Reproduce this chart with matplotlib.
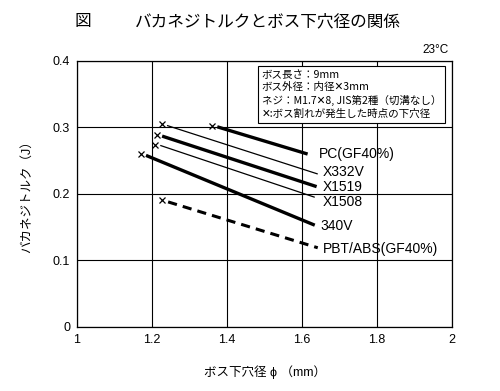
import matplotlib
matplotlib.use("Agg")
import matplotlib.pyplot as plt

plt.rcParams['font.family'] = ['Liberation Sans', 'Noto Sans CJK JP', 'DejaVu Sans']

series = ["PC(GF40%)", "X332V", "X1519", "X1508", "340V", "PBT/ABS(GF40%)"]
mark_x = [1.361, 1.227, 1.214, 1.209, 1.171, 1.227]
mark_y = [0.302, 0.305, 0.289, 0.274, 0.260, 0.191]
start_x = [1.374, 1.240, 1.227, 1.222, 1.184, 1.243]
start_y = [0.301, 0.303, 0.287, 0.273, 0.258, 0.188]
end_x = [1.615, 1.642, 1.639, 1.634, 1.634, 1.642]
end_y = [0.260, 0.230, 0.211, 0.195, 0.153, 0.119]
label_x = [1.645, 1.655, 1.655, 1.655, 1.650, 1.655]
label_y = [0.260, 0.233, 0.211, 0.188, 0.152, 0.117]
widths = [2.4, 0.9, 2.4, 0.9, 2.4, 2.2]
styles = ['-', '-', '-', '-', '-', '--']

xticks = [1, 1.2, 1.4, 1.6, 1.8, 2]
xticklabels = ["1", "1.2", "1.4", "1.6", "1.8", "2"]
yticks = [0, 0.1, 0.2, 0.3, 0.4]
yticklabels = ["0", "0.1", "0.2", "0.3", "0.4"]

fig = plt.figure(figsize=(5.0, 3.91), dpi=100)
ax = fig.add_axes([0.154, 0.164, 0.75, 0.68])
ax.set_xlim(1, 2)
ax.set_ylim(0, 0.4)
ax.set_xticks(xticks)
ax.set_xticklabels(xticklabels, fontsize=9)
ax.set_yticks(yticks)
ax.set_yticklabels(yticklabels, fontsize=9)
ax.tick_params(length=0, pad=5)
ax.grid(True, color='black', linewidth=0.8)
ax.set_axisbelow(True)
for s in ax.spines.values():
    s.set_linewidth(0.9)

for i, name in enumerate(series):
    if styles[i] == '--':
        ax.plot([start_x[i], end_x[i]], [start_y[i], end_y[i]], color='black',
                linewidth=widths[i], linestyle=(0, (3, 2)), solid_capstyle='butt')
    else:
        ax.plot([start_x[i], end_x[i]], [start_y[i], end_y[i]], color='black',
                linewidth=widths[i], solid_capstyle='butt')
    ax.plot([mark_x[i]], [mark_y[i]], marker='x', color='black', markersize=5,
            markeredgewidth=0.9, linestyle='none')
    ax.text(label_x[i], label_y[i], name, fontsize=10, va='center', ha='left')

note = "ボス長さ：9mm\nボス外径：内径✕3mm\nネジ：M1.7✕8, JIS第2種（切溝なし）\n✕:ボス割れが発生した時点の下穴径"
ax.text(0.493, 0.966, note, transform=ax.transAxes, fontsize=7.6, va='top', ha='left',
        linespacing=1.3, family=['Noto Sans CJK JP', 'DejaVu Sans'],
        bbox=dict(boxstyle='square,pad=0.4', facecolor='white', edgecolor='black', linewidth=0.8))

ax.set_xlabel("ボス下穴径 ϕ （mm）", fontsize=9, labelpad=14)
ax.set_ylabel("バカネジトルク（J）", fontsize=9, labelpad=14)

fig.text(0.166, 0.944, "図", fontsize=12, ha='center', va='center')
fig.text(0.27, 0.944, "バカネジトルクとボス下穴径の関係", fontsize=12, ha='left', va='center')
fig.text(0.897, 0.872, "23°C", fontsize=8.5, ha='right', va='center')

fig.savefig("out.png", dpi=100)
